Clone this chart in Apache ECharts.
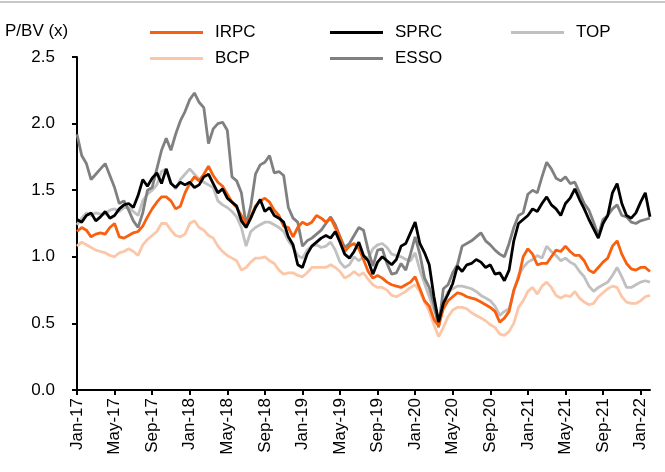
<!DOCTYPE html>
<html>
<head>
<meta charset="utf-8">
<script src="https://cdn.jsdelivr.net/npm/echarts@6/dist/echarts.min.js"></script>
<style>
  html, body { margin: 0; padding: 0; background: #fff; }
  #chart { width: 665px; height: 472px; }
</style>
</head>
<body>
<div id="chart"></div>
<script>
// x axis tick labels, one every 4 months from Jan-17
var tickLabels = ['Jan-17', 'May-17', 'Sep-17', 'Jan-18', 'May-18', 'Sep-18', 'Jan-19', 'May-19',
    'Sep-19', 'Jan-20', 'May-20', 'Sep-20', 'Jan-21', 'May-21', 'Sep-21', 'Jan-22'];

// P/BV readings, one every half month starting Jan-17
var irpc = [
    1.19, 1.22, 1.20, 1.15, 1.17, 1.18, 1.17, 1.22, 1.25, 1.15,
    1.14, 1.16, 1.18, 1.19, 1.23, 1.30, 1.36, 1.41, 1.45, 1.45,
    1.42, 1.36, 1.38, 1.48, 1.55, 1.60, 1.57, 1.62, 1.68, 1.61,
    1.56, 1.53, 1.47, 1.41, 1.37, 1.31, 1.25, 1.30, 1.38, 1.42,
    1.44, 1.41, 1.35, 1.31, 1.23, 1.22, 1.15, 1.22, 1.26, 1.24,
    1.26, 1.31, 1.29, 1.26, 1.29, 1.22, 1.15, 1.04, 1.08, 1.10,
    1.06, 0.98, 0.89, 0.84, 0.86, 0.84, 0.81, 0.79, 0.78, 0.77,
    0.79, 0.81, 0.85, 0.76, 0.67, 0.63, 0.53, 0.48, 0.61, 0.67,
    0.70, 0.73, 0.72, 0.70, 0.69, 0.68, 0.66, 0.64, 0.62, 0.59,
    0.51, 0.54, 0.59, 0.75, 0.84, 1.00, 1.06, 1.02, 0.94, 0.95,
    0.95, 1.00, 1.05, 1.04, 1.08, 1.04, 1.01, 1.01, 0.97, 0.90,
    0.88, 0.92, 0.96, 0.99, 1.08, 1.12, 1.02, 0.95, 0.91, 0.90,
    0.92, 0.92, 0.89
];
var sprc = [
    1.28, 1.26, 1.31, 1.33, 1.27, 1.30, 1.34, 1.29, 1.31, 1.36,
    1.39, 1.40, 1.37, 1.46, 1.58, 1.53, 1.59, 1.63, 1.55, 1.66,
    1.55, 1.52, 1.56, 1.54, 1.56, 1.52, 1.54, 1.60, 1.62, 1.55,
    1.48, 1.51, 1.44, 1.41, 1.38, 1.27, 1.22, 1.29, 1.37, 1.43,
    1.34, 1.37, 1.31, 1.29, 1.26, 1.15, 1.09, 0.94, 0.92, 1.02,
    1.08, 1.11, 1.14, 1.16, 1.14, 1.19, 1.11, 1.02, 0.99, 1.04,
    1.11, 1.01, 0.97, 0.87, 0.96, 1.00, 0.97, 0.94, 0.98, 1.08,
    1.10, 1.18, 1.26, 1.10, 1.03, 0.94, 0.70, 0.51, 0.65, 0.72,
    0.80, 0.93, 0.89, 0.94, 0.95, 0.98, 0.96, 0.92, 0.94, 0.87,
    0.88, 0.82, 0.90, 1.12, 1.25, 1.28, 1.31, 1.36, 1.34, 1.40,
    1.45, 1.39, 1.36, 1.31, 1.40, 1.44, 1.51, 1.43, 1.36, 1.28,
    1.21, 1.14, 1.25, 1.31, 1.48, 1.55, 1.40, 1.31, 1.29, 1.33,
    1.41, 1.48, 1.30
];
var top_ = [
    1.24, 1.29, 1.33, 1.31, 1.33, 1.32, 1.32, 1.35, 1.36, 1.34,
    1.37, 1.37, 1.34, 1.31, 1.42, 1.47, 1.50, 1.54, 1.64, 1.66,
    1.56, 1.51, 1.58, 1.62, 1.66, 1.62, 1.58, 1.56, 1.54, 1.52,
    1.42, 1.39, 1.37, 1.34, 1.30, 1.22, 1.08, 1.19, 1.22, 1.24,
    1.26, 1.26, 1.24, 1.22, 1.19, 1.12, 1.07, 1.01, 0.99, 1.05,
    1.08, 1.09, 1.07, 1.08, 1.11, 1.05, 0.96, 0.92, 0.94, 1.00,
    0.97, 1.00, 0.99, 1.06, 1.09, 1.10, 1.07, 1.02, 1.01, 1.00,
    0.98, 0.97, 1.03, 0.90, 0.80, 0.70, 0.60, 0.54, 0.66, 0.74,
    0.76, 0.78, 0.78, 0.77, 0.76, 0.74, 0.71, 0.69, 0.67, 0.63,
    0.56, 0.59, 0.61, 0.74, 0.86, 0.92, 0.96, 0.98, 1.01, 0.99,
    1.08, 1.04, 1.01, 0.97, 0.99, 0.96, 0.94, 0.89, 0.85, 0.78,
    0.74, 0.77, 0.79, 0.81, 0.86, 0.92, 0.85, 0.77, 0.77, 0.79,
    0.81, 0.82, 0.81
];
var bcp = [
    1.08, 1.11, 1.09, 1.07, 1.05, 1.04, 1.03, 1.01, 1.00, 1.03,
    1.04, 1.06, 1.04, 1.01, 1.09, 1.13, 1.16, 1.19, 1.25, 1.25,
    1.20, 1.16, 1.15, 1.17, 1.25, 1.27, 1.22, 1.20, 1.16, 1.14,
    1.08, 1.04, 1.01, 0.99, 0.97, 0.90, 0.92, 0.96, 0.99, 0.99,
    1.00, 0.97, 0.95, 0.90, 0.87, 0.88, 0.88, 0.86, 0.85, 0.88,
    0.92, 0.92, 0.92, 0.92, 0.94, 0.92, 0.89, 0.84, 0.86, 0.89,
    0.86, 0.88, 0.83, 0.79, 0.77, 0.77, 0.75, 0.71, 0.70, 0.72,
    0.74, 0.77, 0.79, 0.74, 0.66, 0.59, 0.49, 0.40, 0.47, 0.55,
    0.60, 0.62, 0.62, 0.61, 0.58, 0.56, 0.54, 0.52, 0.49, 0.47,
    0.42, 0.41, 0.44, 0.50, 0.62, 0.67, 0.74, 0.77, 0.72, 0.78,
    0.81, 0.77, 0.71, 0.69, 0.71, 0.70, 0.74, 0.69, 0.66, 0.64,
    0.65, 0.70, 0.73, 0.76, 0.78, 0.77, 0.70, 0.66, 0.65, 0.65,
    0.67, 0.70, 0.71
];
var esso = [
    1.92, 1.76, 1.70, 1.58, 1.62, 1.66, 1.70, 1.61, 1.52, 1.40,
    1.42, 1.35, 1.27, 1.22, 1.33, 1.50, 1.52, 1.66, 1.80, 1.89,
    1.80, 1.92, 2.02, 2.09, 2.18, 2.23, 2.16, 2.12, 1.85, 1.96,
    2.00, 2.01, 1.95, 1.60, 1.57, 1.48, 1.24, 1.38, 1.62, 1.69,
    1.71, 1.76, 1.63, 1.64, 1.61, 1.37, 1.29, 1.26, 1.08, 1.12,
    1.14, 1.17, 1.20, 1.25, 1.30, 1.24, 1.15, 1.07, 1.10, 1.16,
    1.22, 1.20, 1.05, 0.93, 1.05, 1.06, 0.95, 0.87, 0.88, 0.95,
    0.90, 1.02, 1.15, 1.02, 0.84, 0.77, 0.64, 0.47, 0.76, 0.79,
    0.88, 0.94, 1.08, 1.10, 1.12, 1.15, 1.18, 1.12, 1.09, 1.05,
    1.02, 1.00, 1.10, 1.22, 1.31, 1.33, 1.47, 1.50, 1.48, 1.60,
    1.71, 1.66, 1.59, 1.57, 1.60, 1.55, 1.56, 1.48, 1.40, 1.35,
    1.26, 1.16, 1.28, 1.31, 1.36, 1.39, 1.31, 1.30, 1.26, 1.25,
    1.27, 1.28, 1.29
];

var FONT = '"Liberation Sans", Arial, sans-serif';

// months since Jan-17, half month apart
function toPoints(vals) {
    return vals.map(function (v, i) { return [i / 2, v]; });
}

function lineSeries(name, vals, color) {
    return {
        name: name,
        type: 'line',
        data: toPoints(vals),
        showSymbol: false,
        symbol: 'none',
        lineStyle: { color: color, width: 2.8 },
        itemStyle: { color: color },
        emphasis: { disabled: true }
    };
}

function oneLegend(name, left, top) {
    return {
        data: [name],
        left: left,
        top: top,
        padding: 0,
        icon: 'rect',
        itemWidth: 53,
        itemHeight: 3,
        textStyle: { fontSize: 17, fontFamily: FONT, color: '#000', padding: [0, 0, 0, 7] }
    };
}

var myChart = echarts.init(document.getElementById('chart'));

option = {
    animation: false,
    backgroundColor: '#fff',
    title: {
        text: 'P/BV (x)',
        left: 5,
        top: 23,
        padding: 0,
        textStyle: { fontSize: 17, fontWeight: 'normal', fontFamily: FONT, color: '#000' }
    },
    legend: [
        oneLegend('IRPC', 150, 24),
        oneLegend('SPRC', 330, 24),
        oneLegend('TOP', 511, 24),
        oneLegend('BCP', 150, 50),
        oneLegend('ESSO', 330, 50)
    ],
    graphic: [{
        type: 'line',
        shape: { x1: 0, y1: 2, x2: 665, y2: 2 },
        style: { stroke: '#c8c8c8', lineWidth: 2 }
    }],
    grid: { left: 77, right: 15, top: 57, bottom: 82 },
    xAxis: {
        type: 'value',
        min: 0,
        max: 61,
        interval: 4,
        splitLine: { show: false },
        axisLine: { lineStyle: { color: '#000', width: 2 } },
        axisTick: { length: 5, lineStyle: { color: '#000', width: 2 } },
        axisLabel: {
            rotate: 90,
            margin: 8,
            fontSize: 17,
            fontFamily: FONT,
            color: '#000',
            showMaxLabel: false,
            formatter: function (v) {
                return v % 4 === 0 ? tickLabels[v / 4] : '';
            }
        }
    },
    yAxis: {
        type: 'value',
        min: 0,
        max: 2.5,
        interval: 0.5,
        splitLine: { show: false },
        axisLine: { show: true, lineStyle: { color: '#000', width: 2 } },
        axisTick: { show: true, length: 5, lineStyle: { color: '#000', width: 2 } },
        axisLabel: {
            margin: 22,
            fontSize: 17,
            fontFamily: FONT,
            color: '#000',
            formatter: function (v) { return v.toFixed(1); }
        }
    },
    series: [
        lineSeries('BCP', bcp, '#fcc6a8'),
        lineSeries('TOP', top_, '#c0c0c0'),
        lineSeries('ESSO', esso, '#808080'),
        lineSeries('IRPC', irpc, '#f8600f'),
        lineSeries('SPRC', sprc, '#000000')
    ]
};

myChart.setOption(option);
</script>
</body>
</html>
